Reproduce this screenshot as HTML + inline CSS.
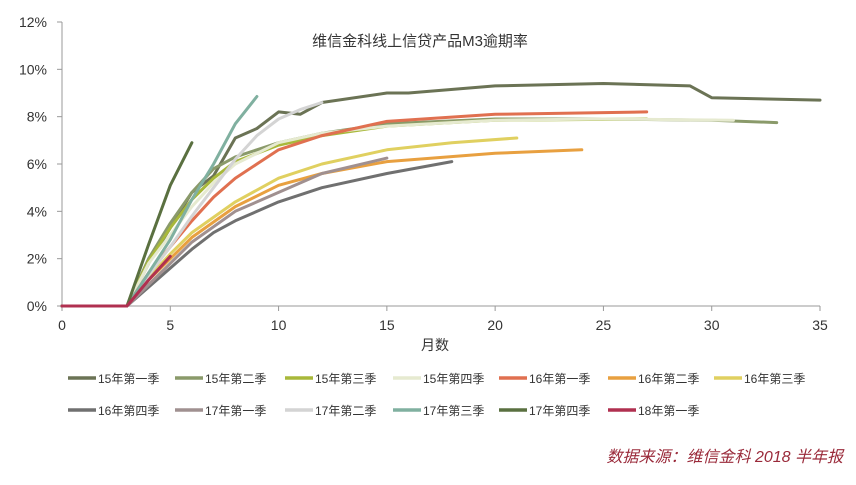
<!DOCTYPE html>
<html><head><meta charset="utf-8"><style>
body{margin:0;background:#fff;}
svg text{font-family:"Liberation Sans","Noto Sans CJK SC",sans-serif;}
</style></head><body>
<svg id="c" width="856" height="480" xmlns="http://www.w3.org/2000/svg">
<text x="420" y="46" font-size="15" fill="#333" text-anchor="middle">维信金科线上信贷产品M3逾期率</text>
<text x="435" y="350" font-size="14" fill="#333" text-anchor="middle">月数</text>
<text x="843" y="462" font-size="16" fill="#9a2a3a" font-style="italic" text-anchor="end" font-family="'Liberation Serif','Noto Serif CJK SC',serif">数据来源：维信金科 2018 半年报</text>
</svg>
<script>
const xTicks=[0,5,10,15,20,25,30,35];
const yTicks=[0,2,4,6,8,10,12];
const names=["15年第一季","15年第二季","15年第三季","15年第四季","16年第一季","16年第二季","16年第三季","16年第四季","17年第一季","17年第二季","17年第三季","17年第四季","18年第一季"];
const colors=["#6b7355","#8a9a6a","#a8b83a","#e6ead0","#e07050","#e8a040","#e0d060","#707070","#a09090","#d4d4d4","#80b0a0","#5a7040","#b03050"];
const months=[
[0,3,4,5,6,7,8,9,10,11,12,15,16,20,25,29,30,35],
[0,3,4,5,6,7,8,9,10,12,15,20,25,30,33],
[0,3,4,5,6,7,8,10,12,15,20,27],
[0,3,4,5,6,7,8,10,12,15,20,25,31],
[0,3,4,5,6,7,8,9,10,12,15,20,27],
[0,3,4,5,6,8,10,12,15,20,24],
[0,3,4,5,6,8,10,12,15,18,21],
[0,3,4,5,6,7,8,10,12,15,18],
[0,3,4,5,6,8,10,12,15],
[0,3,4,5,6,7,8,9,10,11,12],
[0,3,4,5,6,7,8,9],
[0,3,4,5,6],
[0,3,4,5]];
const values=[
[0,0,1.8,3.3,4.8,5.5,7.1,7.5,8.2,8.1,8.6,9.0,9.0,9.3,9.4,9.3,8.8,8.7],
[0,0,2.0,3.5,4.8,5.8,6.3,6.6,6.9,7.3,7.7,7.9,7.9,7.85,7.75],
[0,0,1.9,3.3,4.5,5.4,6.1,6.8,7.2,7.6,7.85,7.9],
[0,0,1.8,3.0,4.2,5.2,6.0,6.9,7.3,7.6,7.85,7.9,7.85],
[0,0,1.4,2.5,3.6,4.6,5.4,6.0,6.6,7.2,7.8,8.1,8.2],
[0,0,1.1,2.0,2.9,4.2,5.1,5.6,6.1,6.45,6.6],
[0,0,1.2,2.2,3.1,4.4,5.4,6.0,6.6,6.9,7.1],
[0,0,0.8,1.6,2.4,3.1,3.6,4.4,5.0,5.6,6.1],
[0,0,0.9,1.8,2.7,4.0,4.8,5.6,6.25],
[0,0,1.3,2.5,3.8,5.0,6.2,7.2,7.9,8.3,8.6],
[0,0,1.4,2.8,4.5,6.0,7.7,8.85],
[0,0,2.6,5.1,6.9],
[0,0,1.1,2.1]];
const svg=document.getElementById('c');const NS="http://www.w3.org/2000/svg";
const X=m=>62+m*(820-62)/35, Y=v=>306-v*(306-22)/12;
function mk(t,a){const e=document.createElementNS(NS,t);for(const k in a)e.setAttribute(k,a[k]);svg.appendChild(e);return e;}
let ax=mk('line',{x1:62,y1:306,x2:820,y2:306,stroke:'#999','stroke-width':1});


let ay=mk('line',{x1:62,y1:22,x2:62,y2:306,stroke:'#999','stroke-width':1});


xTicks.forEach(t=>{let l=mk('line',{x1:X(t),y1:306,x2:X(t),y2:311,stroke:'#999'});


let tx=mk('text',{x:X(t),y:330,'font-size':14,fill:'#333','text-anchor':'middle'});tx.textContent=t;

});
yTicks.forEach(t=>{let l=mk('line',{x1:57,y1:Y(t),x2:62,y2:Y(t),stroke:'#999'});


let tx=mk('text',{x:47,y:Y(t)+5,'font-size':14,fill:'#333','text-anchor':'end'});tx.textContent=t+'%';

});
names.forEach((n,i)=>{
 let d=months[i].map((m,j)=>(j?'L':'M')+X(m).toFixed(1)+','+Y(values[i][j]).toFixed(1)).join('');
 let p=mk('path',{d:d,fill:'none',stroke:colors[i],'stroke-width':3,'stroke-linejoin':'round','stroke-linecap':'round'});
 
 
 const r=i<7?0:1, c=i<7?i:i-7;
 const lx=[68,175,285,393,499,608,714][c], ly=r?410:378;
 let ll=mk('line',{x1:lx,y1:ly,x2:lx+28,y2:ly,stroke:colors[i],'stroke-width':3.5});
 
 
 let lt=mk('text',{x:lx+30,y:ly+5,'font-size':12,fill:'#333'});lt.textContent=n;
 
 
});
</script>
</body></html>
